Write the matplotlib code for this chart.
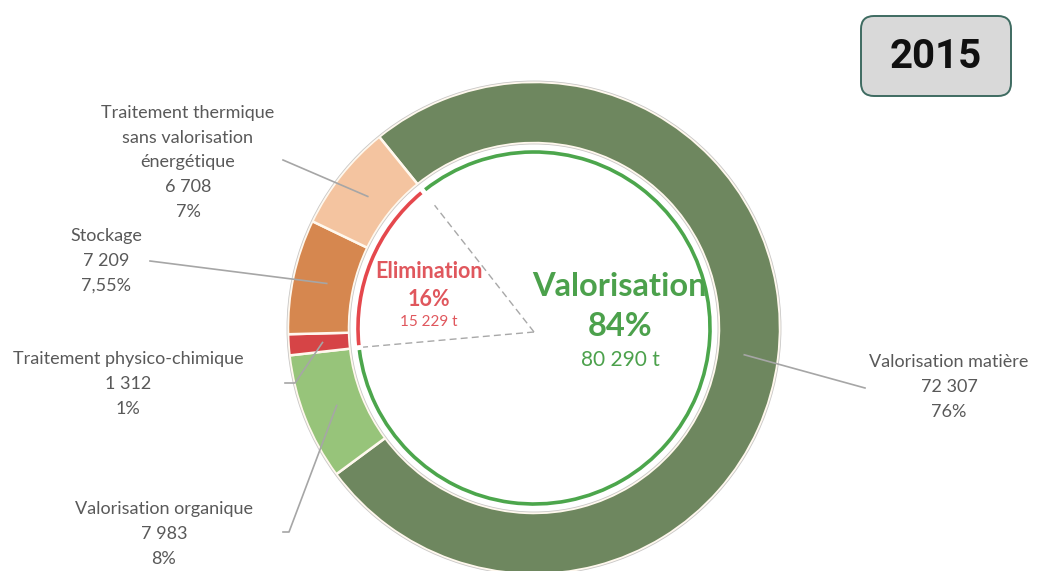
import numpy as np
import matplotlib
matplotlib.use("Agg")
import matplotlib.pyplot as plt
from matplotlib.patches import Arc, Circle, FancyBboxPatch

# ---- data ----
categories = ["Valorisation matière", "Valorisation organique",
              "Traitement physico-chimique", "Stockage",
              "Traitement thermique\nsans valorisation\nénergétique"]
tonnages = [72307, 7983, 1312, 7209, 6708]
tonnage_labels = ["72 307", "7 983", "1 312", "7 209", "6 708"]
pct_labels = ["76%", "8%", "1%", "7,55%", "7%"]
colors = ["#6E875F", "#97C47A", "#D64446", "#D6874F", "#F4C4A0"]
groups = ["Valorisation", "Elimination"]
group_pct = ["84%", "16%"]
group_tonnage = ["80 290 t", "15 229 t"]
year = "2015"

W, H = 1040, 571
fig = plt.figure(figsize=(W / 100, H / 100), dpi=100)
ax = fig.add_axes([0, 0, 1, 1])

cx, cy = 534, H - 328
R_out, ring_w, R_arc = 246, 61, 176
start = 129

ax.pie(tonnages, radius=R_out, center=(cx, cy), startangle=start,
       counterclock=False, colors=colors,
       wedgeprops=dict(width=ring_w, edgecolor="#FFF8EE", linewidth=1.8))
ax.add_patch(Circle((cx, cy), R_out + 1, fill=False, ec="#C8C8C8", lw=0.6))
ax.add_patch(Circle((cx, cy), R_out - ring_w - 1, fill=False, ec="#C8C8C8", lw=0.6))

total = sum(tonnages)
elim_deg = sum(tonnages[2:]) / total * 360
ax.add_patch(Arc((cx, cy), 2 * R_arc, 2 * R_arc, theta1=start + 0.8,
                 theta2=start + elim_deg - 0.8, color="#E5484D", lw=2.6))
ax.add_patch(Arc((cx, cy), 2 * R_arc, 2 * R_arc, theta1=start + elim_deg + 0.8,
                 theta2=start + 360 - 0.8, color="#4CA64C", lw=2.6))

# dashed separators
for ang, rr in [(start, 158), (start + elim_deg, 172)]:
    a = np.deg2rad(ang)
    ax.plot([cx, cx + rr * np.cos(a)], [cy - 4, cy + rr * np.sin(a)],
            ls=(0, (5, 3)), color="#A8A8A8", lw=1.0)

# center texts
fam = ["Lato", "DejaVu Sans"]
gx = 620
ax.text(gx, H - 287, groups[0], ha="center", va="center", fontsize=23.5,
        fontweight="bold", color="#4CA14C", family=fam)
ax.text(gx, H - 326, group_pct[0], ha="center", va="center", fontsize=23.5,
        fontweight="bold", color="#4CA14C", family=fam)
ax.text(gx, H - 360, group_tonnage[0], ha="center", va="center", fontsize=15,
        color="#4CA14C", family=fam)
ex = 429
ax.text(ex, H - 272, groups[1], ha="center", va="center", fontsize=15.5,
        fontweight="bold", color="#E0575D", family=fam)
ax.text(ex, H - 299, group_pct[1], ha="center", va="center", fontsize=15.5,
        fontweight="bold", color="#E0575D", family=fam)
ax.text(ex, H - 322, group_tonnage[1], ha="center", va="center", fontsize=11,
        color="#E0575D", family=fam)

# labels with leader lines
label_pos = [(949, 387), (164, 534), (128, 384), (106, 261), (188, 187)]
line_pts = [[(865, 388)], [(283, 532), (289, 532)], [(285, 383), (295, 383)],
            [(150, 261)], [(283, 160)]]
step = 24.6
cum = 0
for i, v in enumerate(tonnages):
    mid = start - (cum + v / 2) / total * 360
    cum += v
    a = np.deg2rad(mid)
    px = cx + 212 * np.cos(a)
    py = cy + 212 * np.sin(a)
    xs = [p[0] for p in line_pts[i]] + [px]
    ys = [H - p[1] for p in line_pts[i]] + [py]
    ax.plot(xs, ys, color="#A6A6A6", lw=1.2)
    lx, ly = label_pos[i]
    lines = categories[i].split("\n") + [tonnage_labels[i], pct_labels[i]]
    n = len(lines)
    for k, s in enumerate(lines):
        yy = ly + (k - (n - 2)) * step
        ax.text(lx, H - yy, s, ha="center", va="center", fontsize=13,
                color="#595959", family=fam)

# year box
box = FancyBboxPatch((861, H - 96), 150, 80,
                     boxstyle="round,pad=0,rounding_size=13",
                     fc="#D9D9D9", ec="#3E6B61", lw=1.4)
ax.add_patch(box)
ax.text(936, H - 57, year, ha="center", va="center", fontsize=29,
        fontweight="bold", color="#111111", family=["Roboto", "DejaVu Sans"])

ax.set_xlim(0, W)
ax.set_ylim(0, H)
ax.set_aspect("auto")
ax.axis("off")
fig.savefig("out.png", dpi=100)
